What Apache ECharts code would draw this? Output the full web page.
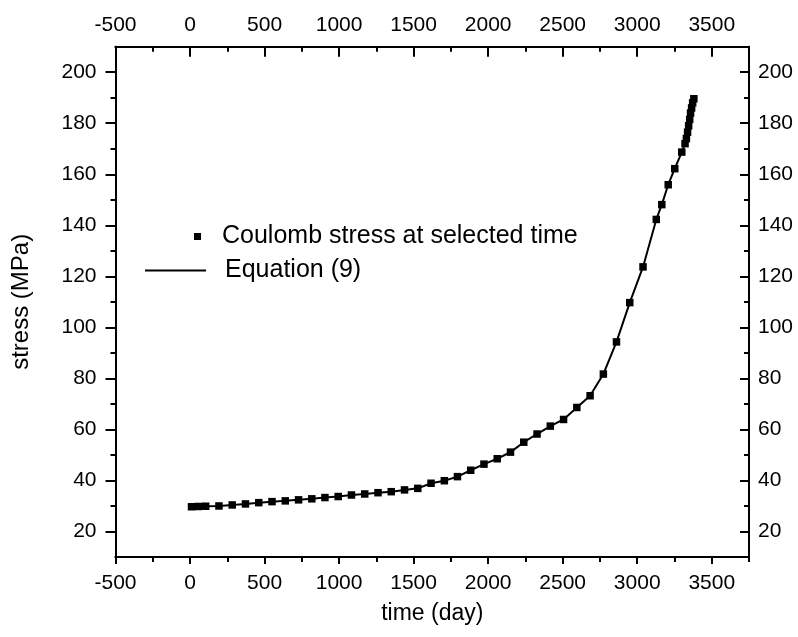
<!DOCTYPE html>
<html>
<head>
<meta charset="utf-8">
<script src="https://cdn.jsdelivr.net/npm/echarts@6/dist/echarts.min.js"></script>
<style>
html,body{margin:0;padding:0;background:#fff;}
#chart{width:798px;height:637px;}
</style>
</head>
<body>
<div id="chart"></div>
<script>
// time (day) of the selected points
const times = [10, 55, 105, 194, 283, 372, 461, 550, 639, 728, 817, 905, 994, 1083, 1172, 1261, 1350, 1439, 1528, 1617, 1706, 1794, 1883, 1972, 2061, 2150, 2239, 2328, 2417, 2506, 2595, 2684, 2773, 2861, 2950, 3039, 3128, 3165, 3208, 3252, 3299, 3321, 3330, 3338, 3345, 3352, 3358, 3365, 3372, 3380];
// Coulomb stress (MPa)
const stress = [29.7, 29.8, 29.9, 30.0, 30.4, 30.8, 31.3, 31.7, 32.0, 32.4, 32.8, 33.3, 33.7, 34.3, 34.7, 35.2, 35.6, 36.3, 36.9, 38.9, 39.9, 41.5, 44.0, 46.4, 48.5, 51.1, 55.0, 58.2, 61.3, 63.9, 68.6, 73.2, 81.7, 94.3, 109.7, 123.7, 142.3, 148.1, 155.9, 162.2, 168.7, 172.0, 174.0, 176.5, 179.0, 181.5, 184.0, 186.0, 188.0, 189.6];
// tick values
const xMajorTicks = [-500, 0, 500, 1000, 1500, 2000, 2500, 3000, 3500];
const xMinorTicks = [-250, 250, 750, 1250, 1750, 2250, 2750, 3250, 3750];
const yMajorTicks = [20, 40, 60, 80, 100, 120, 140, 160, 180, 200];
const yMinorTicks = [30, 50, 70, 90, 110, 130, 150, 170, 190];
const seriesNames = ['Coulomb stress at selected time', 'Equation (9)'];
const axisTitles = {x: 'time (day)', y: 'stress (MPa)'};

const points = times.map((t, i) => [t, stress[i]]);
const FONT = '"Liberation Sans", Arial, sans-serif';
const black = '#000';
const plain = v => String(v);

function xAxis(position, ticks, len, inside, labels, margin, extra) {
  return Object.assign({
    type: 'value', position: position, min: -500, max: 3750,
    axisLine: {show: true, onZero: false, lineStyle: {color: black, width: 2}},
    axisTick: {show: true, inside: inside, length: len, customValues: ticks, lineStyle: {color: black, width: 2}},
    axisLabel: labels ? {show: true, customValues: ticks, formatter: plain, margin: margin, color: black, fontSize: 21, fontFamily: FONT} : {show: false},
    splitLine: {show: false}
  }, extra || {});
}
function yAxis(position, ticks, len, inside, labels, margin, extra) {
  return Object.assign({
    type: 'value', position: position, min: 10, max: 210,
    axisLine: {show: true, onZero: false, lineStyle: {color: black, width: 2}},
    axisTick: {show: true, inside: inside, length: len, customValues: ticks, lineStyle: {color: black, width: 2}},
    axisLabel: labels ? {show: true, customValues: ticks, formatter: plain, margin: margin, color: black, fontSize: 21, fontFamily: FONT} : {show: false},
    splitLine: {show: false}
  }, extra || {});
}

const chart = echarts.init(document.getElementById('chart'), null, {renderer: 'canvas'});
chart.setOption({
  backgroundColor: '#fff',
  animation: false,
  grid: {left: 115.5, right: 49, top: 46.7, bottom: 80, containLabel: false},
  xAxis: [
    xAxis('bottom', xMajorTicks, 7, false, true, 16, {
      name: axisTitles.x, nameLocation: 'middle', nameGap: 45,
      nameTextStyle: {color: black, fontSize: 23, fontFamily: FONT}
    }),
    xAxis('bottom', xMinorTicks, 5, false, false, 0),
    xAxis('top', xMajorTicks, 10, true, true, 11),
    xAxis('top', xMinorTicks, 5, true, false, 0)
  ],
  yAxis: [
    yAxis('left', yMajorTicks, 10, false, true, 19, {
      name: axisTitles.y, nameLocation: 'middle', nameGap: 82, nameRotate: 90,
      nameTextStyle: {color: black, fontSize: 24, fontFamily: FONT}
    }),
    yAxis('left', yMinorTicks, 5, false, false, 0),
    yAxis('right', yMajorTicks, 9, true, true, 9),
    yAxis('right', yMinorTicks, 5, true, false, 0)
  ],
  legend: [
    {
      data: [{name: seriesNames[0], icon: 'rect'}],
      left: 194, top: 224, padding: 0,
      itemWidth: 7, itemHeight: 7,
      textStyle: {color: black, fontSize: 25, fontFamily: FONT, padding: [0, 0, 12, 16]}
    },
    {
      data: [{name: seriesNames[1], icon: 'rect'}],
      left: 145, top: 258, padding: 0,
      itemWidth: 61, itemHeight: 2,
      itemStyle: {color: black},
      textStyle: {color: black, fontSize: 25, fontFamily: FONT, padding: [0, 0, 12, 14]}
    }
  ],
  series: [
    {
      name: seriesNames[1], type: 'line', data: points,
      xAxisIndex: 0, yAxisIndex: 0,
      showSymbol: false, symbol: 'none', smooth: false,
      lineStyle: {color: black, width: 2}, itemStyle: {color: black},
      z: 2
    },
    {
      name: seriesNames[0], type: 'scatter', data: points,
      xAxisIndex: 0, yAxisIndex: 0,
      symbol: 'rect', symbolSize: 7.5,
      itemStyle: {color: black, opacity: 1},
      z: 3
    }
  ]
});
</script>
</body>
</html>
